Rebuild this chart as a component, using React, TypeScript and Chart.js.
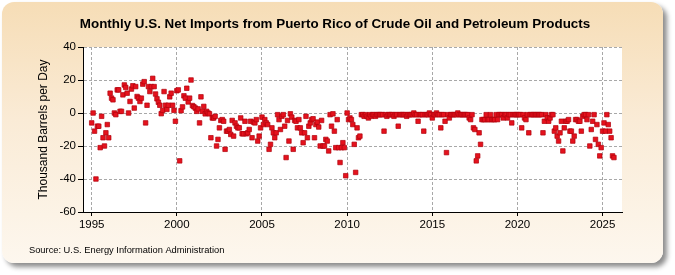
import { useEffect, useRef } from "react";
import { Chart, registerables } from "chart.js";

Chart.register(...registerables);

const TITLE = "Monthly U.S. Net Imports from Puerto Rico of Crude Oil and Petroleum Products";
const Y_TITLE = "Thousand Barrels per Day";
const SOURCE = "Source: U.S. Energy Information Administration";

const START_YEAR = 1995;

// Monthly values (thousand barrels per day), Jan 1995 onward
const v1995to1999 = [
  -6, 0, -11, -40, -8, -8, -21, -2, -15, -20, -12, -7,
  -15, 12, 9, 8, 0, -1, 14, 14, 1, 1, 11, 17,
  15.5, 12, 0, 7, 14.5, 16.5, 3, 16, 10, 9, 7, 9,
  17.5, 19, -6, 4.7, 16, 13, 16, 21, 16, 11.5, 8.6, 6.5,
  4.7, -0.4, 1.6, 13, 4.7, 2.2, 4.7, 9.8, 12, 4.7, 1.6, -5,
];
const v2000to2004 = [
  13.5, 14, -29, 1.4, 3.7, 10.4, 9, 15, 6.7, 9, 20, 4.5,
  3.8, 3, 1, 2.5, -6, 9.8, 1, 4, -0.5, 1, 0, -0.5,
  -15, -3, -3, -2, -20, -16, -9, -4.5, -4, -5, -22, -11,
  -11, -10, -13, -4.5, -14, -6, -8, -9, -9, -3, -12.6, -12.6,
  -5, -12.6, -12, -10, -5, -15, -5.5, -6, -4, -17, -14, -9,
];
const v2005to2009 = [
  -2.5, -7, -4, -6, -7, -22, -19, -9, -12, -15, -12, -1,
  -4, -10, -2, -1, -8, -27, -4.5, -17, -0.5, -2.5, -22, -4.5,
  -5, -9, -4, -9, -12, -18, -12, -2, -15, -8, -6, -4,
  -3.5, -15, -7, -5.5, -8.5, -20, -4.5, -20, -20, -16, -17, -23,
  -1, -8, -0.5, -11, -21, -4, -21, -30, -21, -18, -21, -38,
];
const v2010to2014 = [
  0, -4, -3, -4, -7, -19, -36, -9, -15, -14, -1, -1,
  -2, -1, -2, -3, -1, -2, -1, -1, -2, -1, -1, -1,
  -1, -1, -11, -1, -2, -1, -1, -1, -1, -2, -1, -1,
  -8, -1, -1, -1, -1, -1, -2, -1, -1, -1, -1, 0,
  -1, -1, -5, -1, -1, -1, -11, -1, -1, -1, 0, -1,
];
const v2015to2019 = [
  -3, -1, -1, 0, -1, -1, -9, -1, -1, -5, -24, -1,
  -3, -1, -1, -1, -1, -1, 0, -1, -1, -1, -1, -1,
  -1, -1, -3, -4, -1, -9, -10, -29, -26, -12, -19, -4,
  -4, -4, -1, -4, -4, -1, -4, -4, -4, -1, -4, -1,
  -1, -1, -3, -1, -1, -3, -1, -1, -6, -1, -1, -1,
];
const v2020to2025 = [
  -1, -1, -1, -9, -1, -3, -4, -1, -12, -1, -1, -1,
  -1, -1, -1, -1, -1, -1, -12, -5, -1, -3, -5, -3,
  -1, -1, -11, -9, -14, -17, -12, -5, -23, -9, -5, -5,
  -4, -11, -11, -17, -14, -4, -4, -5, -5, -11, -2, -1,
  -1, -4, -1, -20, -10, -5, -1, -16, -7, -19, -26, -21,
  -11, -6, -11, -1, -7, -11, -15, -26, -27,
];

const X_TICKS = [1995, 2000, 2005, 2010, 2015, 2020, 2025];
const Y_TICKS = [-60, -40, -20, 0, 20, 40];

const FONT = "'Liberation Sans Narrow', 'Arial Narrow', 'Liberation Sans', Arial, sans-serif";

export default function App() {
  const ref = useRef<HTMLCanvasElement>(null);

  useEffect(() => {
    const values = [
      ...v1995to1999,
      ...v2000to2004,
      ...v2005to2009,
      ...v2010to2014,
      ...v2015to2019,
      ...v2020to2025,
    ];
    const points = values.map((v, i) => ({ x: START_YEAR + i / 12, y: v }));

    const bgPlugin = {
      id: "plotBg",
      beforeDraw(chart: any) {
        const { ctx, chartArea } = chart;
        ctx.save();
        ctx.fillStyle = "#ffffff";
        ctx.fillRect(chartArea.left, chartArea.top, chartArea.right - chartArea.left, chartArea.bottom - chartArea.top);
        ctx.restore();
      },
      afterDraw(chart: any) {
        const { ctx } = chart;
        ctx.save();
        ctx.fillStyle = "#000000";
        ctx.textBaseline = "middle";
        ctx.textAlign = "center";
        ctx.font = `bold 13.4px ${FONT}`;
        ctx.fillText(TITLE, 335, 24.5);
        ctx.textAlign = "left";
        ctx.font = `9.3px ${FONT}`;
        ctx.fillText(SOURCE, 29, 250);
        ctx.restore();
      },
    };

    const chart = new Chart(ref.current!, {
      type: "scatter",
      data: {
        datasets: [
          {
            data: points,
            pointStyle: "rect",
            pointRadius: 3.2,
            pointHoverRadius: 3.2,
            backgroundColor: "#E5121D",
            borderColor: "#B0000C",
            borderWidth: 0.7,
          },
        ],
      },
      options: {
        animation: false,
        responsive: false,
        maintainAspectRatio: false,
        events: [],
        layout: { padding: { left: 0, right: 53, top: 47, bottom: 33 } },
        plugins: {
          legend: { display: false },
          tooltip: { enabled: false },
          title: { display: false },
        },
        scales: {
          x: {
            type: "linear",
            min: 1994.49,
            max: 2026.14,
            afterBuildTicks: (s: any) => {
              s.ticks = X_TICKS.map((v) => ({ value: v }));
            },
            afterFit: (s: any) => {
              s.height = 30;
            },
            ticks: {
              callback: (v: any) => String(v),
              color: "#000000",
              font: { family: FONT, size: 11.5 },
              padding: 2,
              maxRotation: 0,
              autoSkip: false,
            },
            grid: {
              color: "#A8A8A8",
              lineWidth: 1,
              borderDash: [3, 2],
              tickColor: "#000000",
              tickLength: 4,
              tickBorderDash: [],
            } as any,
            border: { display: true, color: "#000000", width: 1, dash: [3, 2] } as any,
          },
          y: {
            type: "linear",
            min: -60,
            max: 40,
            afterBuildTicks: (s: any) => {
              s.ticks = Y_TICKS.map((v) => ({ value: v }));
            },
            afterFit: (s: any) => {
              s.width = 83;
            },
            ticks: {
              callback: (v: any) => String(v),
              color: "#000000",
              font: { family: FONT, size: 11.5 },
              padding: 2,
            },
            title: {
              display: true,
              text: Y_TITLE,
              color: "#000000",
              font: { family: FONT, size: 12 },
              padding: { top: 36.8, bottom: 0 },
            },
            grid: {
              color: "#A8A8A8",
              lineWidth: 1,
              borderDash: [3, 2],
              tickColor: "#000000",
              tickLength: 5,
              tickBorderDash: [],
            } as any,
            border: { display: true, color: "#000000", width: 1, dash: [3, 2] } as any,
          },
        },
      },
      plugins: [bgPlugin],
    } as any);

    return () => chart.destroy();
  }, []);

  return (
    <div
      style={{
        position: "fixed",
        left: 0,
        top: 0,
        width: 675,
        height: 275,
        background: "#ffffff",
        overflow: "hidden",
      }}
    >
      <div
        style={{
          position: "absolute",
          left: 2,
          top: 2,
          width: 661,
          height: 261,
          borderRadius: 12,
          background: "linear-gradient(to bottom, #F6DDB6 0%, #FAEBD6 45%, #FDF7EE 100%)",
          boxShadow: "4px 4px 5px rgba(0,0,0,0.45)",
        }}
      />
      <canvas
        ref={ref}
        width={675}
        height={275}
        style={{ position: "absolute", left: 0, top: 0, width: 675, height: 275 }}
      />
    </div>
  );
}
